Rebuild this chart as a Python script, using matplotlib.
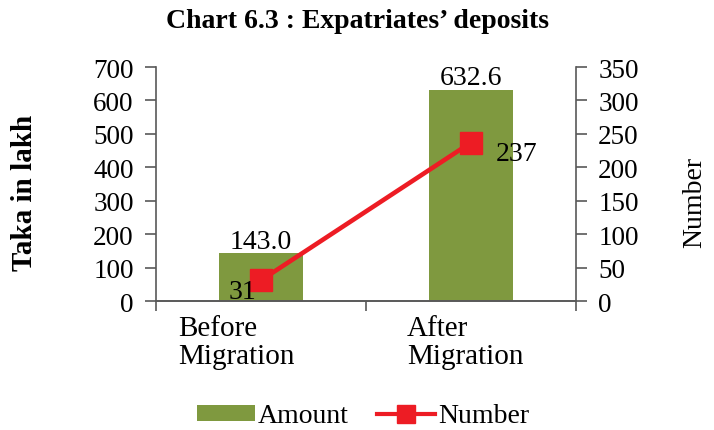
import numpy as np
import matplotlib.pyplot as plt
import matplotlib.transforms as mtransforms
from matplotlib.patches import Patch
from matplotlib.lines import Line2D

categories = ["Before\nMigration", "After\nMigration"]
amount = [143.0, 632.6]
number = [31, 237]

bar_color = '#7F993F'
line_color = '#ED1C24'
axis_grey = '#595959'

plt.rcParams['font.family'] = ['Liberation Serif', 'DejaVu Serif']

fig = plt.figure(figsize=(7.14, 4.31), dpi=100)
ax = fig.add_axes([156/714, 1 - 302/431, 420/714, 234/431])
ax2 = ax.twinx()

x = np.arange(len(categories))
ax.bar(x, amount, width=0.4, color=bar_color, zorder=2)
ax.set_xlim(-0.5, 1.5)
ax.set_ylim(0, 700)
ax.set_yticks(np.arange(0, 701, 100))
ax.set_xticks(x)
ax.set_xticklabels(categories, fontsize=21, linespacing=1.12, multialignment='left')
ax.set_xticks([-0.5, 0.5, 1.5], minor=True)
ax.tick_params(axis='x', which='major', length=0, pad=10)
ax.tick_params(axis='x', which='minor', length=7, width=1.2, color=axis_grey, direction='out')
ax.tick_params(axis='y', labelsize=19.5, length=8, width=1.2, pad=8, color=axis_grey, direction='out')
# labels in the original sit slightly left of the bar centres
for lbl, dx in zip(ax.get_xticklabels(), [-25, -6]):
    lbl.set_transform(lbl.get_transform() + mtransforms.ScaledTranslation(dx / 100, 0, fig.dpi_scale_trans))

for i, v in enumerate(amount):
    ax.annotate(f"{v:.1f}", (x[i], v), xytext=(0, 4), textcoords='offset points',
                ha='center', va='baseline', fontsize=20)

ax2.plot(x, number, color=line_color, lw=3.3, marker='s', markersize=16, zorder=3)
ax2.set_ylim(0, 350)
ax2.set_yticks(np.arange(0, 351, 50))
ax2.tick_params(axis='y', labelsize=19.5, length=8, width=1.2, pad=8, color=axis_grey, direction='out')
ax2.annotate(str(number[0]), (x[0], number[0]), xytext=(-3.5, 1), textcoords='offset points',
             ha='right', va='top', fontsize=20)
ax2.annotate(str(number[1]), (x[1], number[1]), xytext=(18, -8), textcoords='offset points',
             ha='left', va='center', fontsize=20)

for a in (ax, ax2):
    a.spines['top'].set_visible(False)
    for s in ('left', 'right', 'bottom'):
        a.spines[s].set_color(axis_grey)
        a.spines[s].set_linewidth(1.2)
ax2.spines['left'].set_visible(False)
ax.spines['right'].set_visible(False)

fig.text(357/714, 1 - 22/431, "Chart 6.3 : Expatriates\u2019 deposits", ha='center', va='center',
         fontsize=20, fontweight='bold')
fig.text(25/714, 1 - 193/431, "Taka in lakh", rotation=90, ha='center', va='center',
         fontsize=21, fontweight='bold')
fig.text(695/714, 1 - 202/431, "Number", rotation=90, ha='center', va='center', fontsize=20)

handles = [Patch(facecolor=bar_color, label='Amount'),
           Line2D([0], [0], color=line_color, lw=3, marker='s', markersize=13, label='Number')]
fig.legend(handles=handles, loc='center', bbox_to_anchor=(363/714, 1 - 417/431), ncol=2,
           frameon=False, fontsize=20, handlelength=2.1, handleheight=0.5,
           handletextpad=0.1, columnspacing=1.0, borderpad=0)

fig.savefig('out.png', dpi=100)
